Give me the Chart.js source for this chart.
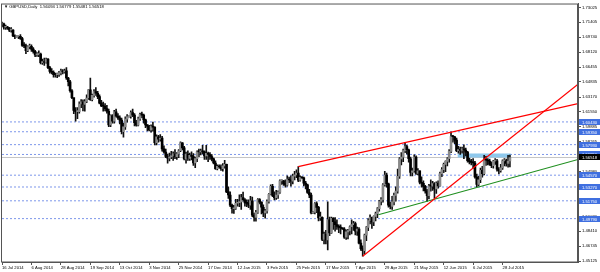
<!DOCTYPE html>
<html>
<head>
<meta charset="utf-8">
<script src="https://cdn.jsdelivr.net/npm/chart.js@4.4.1/dist/chart.umd.min.js"></script>
<style>
  html, body { margin: 0; padding: 0; background: #fff; }
</style>
</head>
<body>
<canvas id="chart" width="600" height="272"></canvas>
<script>
// GBPUSD daily, one bar per entry; prices stored as pips above 1.0000
const symbolTitle = 'GBPUSD,Daily  1.56094 1.56779 1.55481 1.56518';
const timeLabels = ['16 Jul 2014', '6 Aug 2014', '28 Aug 2014', '19 Sep 2014', '13 Oct 2014', '3 Nov 2014',
  '25 Nov 2014', '17 Dec 2014', '12 Jan 2015', '3 Feb 2015', '25 Feb 2015', '17 Mar 2015', '7 Apr 2015',
  '29 Apr 2015', '21 May 2015', '12 Jun 2015', '6 Jul 2015', '28 Jul 2015'];
const barsPerLabel = 16;
const firstOpen = 7110;

const highs = [
  7142,7130,7110,7095,7085,7080,7060,7000,6990,6995,7005,6975,6915,6900,6880,6900,
  6890,6860,6830,6805,6825,6800,6735,6745,6745,6740,6655,6630,6605,6580,6580,6600,
  6625,6620,6625,6640,6535,6500,6400,6230,6200,6200,6265,6290,6285,6290,6340,6400,
  6525,6350,6400,6420,6380,6340,6280,6260,6245,6225,6185,6120,6125,6170,6185,6135,
  6110,6085,6030,6100,6125,6110,6165,6185,6135,6060,6095,6140,6150,6130,6075,6015,
  6005,6010,6040,5990,5900,5895,5905,5885,5780,5745,5690,5700,5720,5715,5740,5705,
  5740,5825,5815,5775,5710,5725,5700,5715,5695,5655,5725,5745,5745,5785,5725,5785,
  5710,5705,5685,5645,5615,5570,5570,5570,5585,5620,5580,5330,5275,5140,5125,5190,
  5190,5240,5245,5270,5200,5185,5185,5225,5215,5040,5070,5200,5200,5165,5130,5080,
  5185,5255,5350,5355,5275,5290,5285,5405,5405,5400,5405,5450,5435,5450,5470,5500,
  5515,5552,5450,5440,5435,5390,5360,5300,5260,5060,5155,5165,5115,5050,5000,4830,
  4850,5165,4995,4995,4990,4990,4965,4910,4910,4880,4880,4855,4860,4900,4965,4950,
  4940,4885,4880,4745,4680,4810,4890,4980,5020,4995,5010,5050,5100,5180,5210,5365,
  5498,5480,5370,5160,5225,5260,5330,5525,5650,5705,5745,5815,5785,5745,5655,5535,
  5680,5670,5530,5505,5440,5395,5345,5300,5355,5405,5390,5375,5385,5395,5490,5540,
  5590,5615,5650,5740,5930,5895,5885,5865,5775,5765,5765,5790,5755,5720,5645,5630,
  5640,5610,5470,5445,5535,5555,5675,5665,5640,5635,5605,5620,5640,5630,5540,5575,
  5625,5640,5635,5675,5678
];
const lows = [
  7095,7065,7060,7060,7035,7030,6980,6960,6975,6960,6950,6875,6860,6795,6815,6845,
  6820,6800,6760,6765,6760,6680,6675,6665,6690,6630,6580,6570,6535,6535,6530,6545,
  6560,6570,6580,6510,6440,6370,6300,6135,6051,6080,6140,6200,6165,6160,6255,6290,
  6280,6275,6315,6335,6300,6240,6210,6160,6165,6140,5990,5990,6030,6030,6095,6070,
  6020,5910,5875,5960,6040,6095,6085,6100,6000,5995,6000,6060,6090,6030,5980,5945,
  5945,5930,5940,5790,5790,5820,5830,5720,5700,5650,5590,5615,5640,5620,5640,5630,
  5650,5715,5735,5625,5590,5620,5620,5625,5565,5540,5605,5660,5680,5690,5630,5630,
  5605,5630,5615,5580,5520,5515,5535,5510,5500,5535,5265,5200,5110,5040,5035,5080,
  5115,5110,5080,5170,5115,5110,5100,5080,5000,4950,4950,5035,5140,5030,5000,4985,
  5040,5150,5240,5220,5185,5190,5200,5255,5355,5345,5325,5335,5375,5335,5360,5405,
  5430,5385,5390,5420,5340,5305,5255,5210,5030,5035,5030,5045,4955,4960,4735,4700,
  4700,4635,4790,4815,4860,4840,4860,4825,4810,4860,4760,4750,4755,4800,4810,4850,
  4800,4795,4700,4630,4565,4590,4735,4845,4920,4870,4900,4955,4990,5060,5130,5160,
  5335,5325,5105,5085,5080,5130,5170,5260,5420,5570,5605,5705,5690,5600,5450,5450,
  5490,5465,5460,5360,5325,5285,5260,5170,5195,5280,5290,5200,5255,5315,5335,5440,
  5485,5495,5560,5600,5705,5820,5805,5715,5700,5685,5700,5640,5670,5600,5580,5570,
  5535,5425,5330,5340,5375,5435,5460,5565,5570,5565,5540,5535,5575,5500,5470,5490,
  5520,5560,5555,5545,5548
];
const closes = [
  7122,7085,7087,7074,7053,7055,6988,6982,6985,6986,6961,6885,6879,6827,6872,6875,
  6844,6819,6781,6783,6790,6695,6700,6697,6734,6641,6598,6590,6564,6563,6565,6583,
  6604,6594,6605,6526,6485,6386,6310,6170,6156,6157,6240,6265,6235,6268,6306,6395,
  6288,6336,6378,6359,6322,6250,6220,6215,6190,6160,6010,6112,6050,6153,6107,6087,
  6062,5935,5989,6073,6100,6105,6145,6118,6034,6006,6076,6126,6117,6065,6011,5995,
  5955,5995,5986,5814,5880,5852,5864,5746,5712,5663,5644,5659,5669,5692,5660,5692,
  5726,5812,5757,5637,5690,5642,5675,5663,5593,5639,5715,5713,5724,5713,5669,5697,
  5685,5663,5637,5591,5528,5554,5547,5528,5560,5577,5273,5239,5127,5088,5090,5148,
  5155,5163,5210,5187,5152,5147,5128,5175,5017,4993,5048,5188,5160,5104,5043,5065,
  5167,5247,5335,5235,5210,5239,5271,5394,5396,5364,5346,5415,5404,5392,5446,5460,
  5480,5402,5432,5428,5370,5350,5266,5239,5042,5050,5144,5102,4988,4994,4749,4810,
  4745,4968,4822,4981,4945,4913,4892,4883,4876,4865,4776,4833,4846,4889,4913,4923,
  4841,4863,4710,4648,4627,4797,4883,4957,4994,4944,5003,5034,5089,5167,5188,5352,
  5459,5361,5128,5114,5164,5235,5282,5445,5637,5656,5728,5771,5735,5638,5486,5504,
  5655,5477,5505,5379,5368,5334,5285,5231,5341,5336,5364,5306,5370,5340,5474,5518,
  5575,5609,5638,5719,5881,5880,5843,5727,5738,5730,5746,5733,5710,5617,5602,5597,
  5591,5437,5356,5407,5509,5474,5627,5621,5613,5579,5562,5611,5616,5523,5507,5537,
  5614,5618,5585,5613,5652
];

// price scale labels
const priceTicks = [1.73025, 1.71405, 1.69740, 1.68120, 1.66455, 1.64835, 1.63170, 1.61550, 1.59885,
  1.58265, 1.56600, 1.54980, 1.53315, 1.51695, 1.50030, 1.48410, 1.46745, 1.45125];
// horizontal lines drawn on the chart
const levelPrices = [1.60430, 1.59350, 1.57930, 1.56850, 1.54570, 1.53270, 1.51750, 1.49790];
const bidPrice = 1.56518;
// rectangle object: bar from, bar to, price low, price high
const zoneBars = [247.5, 276.5];
const zonePrices = [1.56520, 1.56960];
// trendlines as [bar, price] anchor pairs
const redUpperLine = [[161, 1.5552], [313, 1.6244]];
const redSteepLine = [[196, 1.4565], [313, 1.6459]];
const greenLine = [[204.5, 1.5022], [313, 1.5630]];
const lastSlot = 313;

const FONT = 'Liberation Sans';
Chart.defaults.font.family = FONT;
Chart.defaults.font.size = 4.2;
Chart.defaults.color = '#000';

const px = v => 1 + v / 10000;
const opens = closes.map((c, i) => i === 0 ? firstOpen : closes[i - 1]);
const barIdx = closes.map((_, i) => i);

const wickData = barIdx.map(i => ({ x: i, y: [px(lows[i]), px(highs[i])] }));
const bodyData = barIdx.map(i => ({ x: i, y: [px(opens[i]), px(closes[i])] }));
const bodyColors = barIdx.map(i => closes[i] >= opens[i] ? '#8a8a8a' : '#000000');

const toPoints = line => line.map(([x, y]) => ({ x, y }));
const lineSet = (data, color, extra) => Object.assign({
    type: 'line', data, borderColor: color, borderWidth: 1.2,
    pointRadius: 0, fill: false, tension: 0, order: 0
}, extra || {});

const levelSets = levelPrices.map(v => lineSet(
    [{ x: 0, y: v }, { x: lastSlot, y: v }], '#7d97ea', { borderWidth: 1, borderDash: [2, 2], order: 5 }));

const overlay = {
    id: 'overlay',
    afterDraw(chart) {
        const { ctx, chartArea: a, scales: { y } } = chart;
        ctx.save();
        // frame
        ctx.strokeStyle = '#555';
        ctx.lineWidth = 1;
        ctx.strokeRect(a.left - 0.5, a.top + 0.5, a.right - a.left, a.bottom - a.top - 0.5);

        // coloured price labels
        ctx.font = '4.2px "' + FONT + '"';
        ctx.textBaseline = 'middle';
        const tag = (v, bg) => {
            const yy = Math.round(y.getPixelForValue(v));
            ctx.fillStyle = bg;
            ctx.fillRect(a.right + 1, yy - 3, 22, 6);
            ctx.fillStyle = '#fff';
            ctx.fillText(v.toFixed(5), a.right + 4, yy + 0.5);
        };
        levelPrices.forEach(v => tag(v, '#3f6fe0'));
        tag(bidPrice, '#000');

        // symbol header
        ctx.fillStyle = '#000';
        ctx.textBaseline = 'alphabetic';
        ctx.fillText('\u25BC ' + symbolTitle, 4, 8);
        ctx.restore();
    }
};

new Chart(document.getElementById('chart'), {
    type: 'bar',
    data: {
        datasets: [
            lineSet(toPoints(redUpperLine), '#ff0000'),
            lineSet(toPoints(redSteepLine), '#ff0000'),
            lineSet(toPoints(greenLine), '#1f8f1f'),
            {
                type: 'bar', data: wickData, backgroundColor: '#111',
                barThickness: 1, grouped: false, order: 3
            },
            {
                type: 'bar', data: bodyData, backgroundColor: bodyColors,
                barThickness: 2, minBarLength: 1, grouped: false, order: 2
            },
            lineSet([{ x: zoneBars[0], y: zonePrices[1] }, { x: zoneBars[1], y: zonePrices[1] }], 'rgba(0,0,0,0)',
                { borderWidth: 0, fill: { value: zonePrices[0] }, backgroundColor: '#8ec8ec', order: 4 }),
            lineSet([{ x: 0, y: bidPrice }, { x: lastSlot, y: bidPrice }], '#c4c4c4', { borderWidth: 1, order: 6 }),
            ...levelSets
        ]
    },
    options: {
        responsive: false,
        devicePixelRatio: 1,
        animation: false,
        events: [],
        layout: { padding: { left: 2, top: 0, right: 0, bottom: 0 } },
        plugins: { legend: { display: false }, tooltip: { enabled: false } },
        scales: {
            x: {
                type: 'linear',
                min: 0,
                max: lastSlot,
                offset: false,
                grid: { display: true, offset: false, drawOnChartArea: false, tickLength: 3, color: '#555' },
                border: { display: true, color: '#555' },
                afterBuildTicks: s => { s.ticks = timeLabels.map((_, k) => ({ value: k * barsPerLabel })); },
                afterFit: s => { s.height = 10; },
                ticks: {
                    autoSkip: false, maxRotation: 0, align: 'start', padding: 0,
                    callback: v => timeLabels[Math.round(v / barsPerLabel)]
                }
            },
            y: {
                type: 'linear',
                position: 'right',
                min: 1.45016,
                max: 1.73459,
                grid: { display: true, drawOnChartArea: false, tickLength: 3, color: '#555' },
                border: { display: true, color: '#555' },
                afterBuildTicks: s => { s.ticks = priceTicks.map(v => ({ value: v })); },
                afterFit: s => { s.width = 22; },
                ticks: { autoSkip: false, padding: 1, callback: v => v.toFixed(5) }
            }
        }
    },
    plugins: [overlay]
});
</script>
</body>
</html>
